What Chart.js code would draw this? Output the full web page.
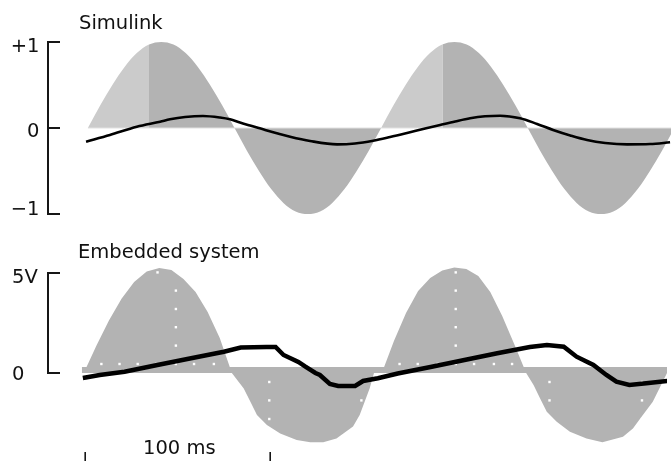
<!DOCTYPE html>
<html><head><meta charset="utf-8">
<script src="https://cdn.jsdelivr.net/npm/chart.js@4/dist/chart.umd.min.js"></script>
<style>
html,body{margin:0;padding:0;background:#fff;width:671px;height:461px;overflow:hidden}
#wrap{position:relative;width:671px;height:461px;font-family:"DejaVu Sans",sans-serif;color:#111}
canvas{position:absolute;left:0}
#c1{top:0}
#c2{top:230px}
.t{position:absolute;font-size:19.5px;line-height:1;white-space:nowrap}
</style></head>
<body><div id="wrap">
<canvas id="c1" width="671" height="230"></canvas>
<canvas id="c2" width="671" height="231"></canvas>
<div class="t" style="left:79px;top:13px">Simulink</div>
<div class="t" style="left:78px;top:242px">Embedded system</div>
<div class="t" style="left:143px;top:438px">100 ms</div>
</div>
<script>
// ---------- DATA (time in ms) ----------
const panelTitles = ['Simulink', 'Embedded system'];

// Top panel: Simulink PWM (shaded sine) and filtered output
const topPwmMs = [1.4, 7.95, 14.5, 21.05, 27.6, 34.15, 40.7, 47.25, 53.8, 60.35, 66.9, 73.45, 80.0, 86.55, 93.1, 99.65, 106.2, 112.75, 119.3, 125.85, 132.4, 138.95, 145.5, 152.05, 158.6, 165.15, 171.7, 178.25, 184.8, 191.35, 197.9, 204.45, 211.0, 217.55, 224.1, 230.65, 237.2, 243.75, 250.3, 256.85, 263.4, 269.95, 276.5, 283.05, 289.6, 296.15, 302.7, 309.25, 315.8];
const topPwmValues = [0, 0.26, 0.5, 0.71, 0.87, 0.97, 1.0, 0.97, 0.87, 0.71, 0.5, 0.26, 0, -0.26, -0.5, -0.71, -0.87, -0.97, -1.0, -0.97, -0.87, -0.71, -0.5, -0.26, 0, 0.26, 0.5, 0.71, 0.87, 0.97, 1.0, 0.97, 0.87, 0.71, 0.5, 0.26, 0, -0.26, -0.5, -0.71, -0.87, -0.97, -1.0, -0.97, -0.87, -0.71, -0.5, -0.26, 0];
const topFilteredMs = [0.4, 13.2, 27.6, 40.1, 45.4, 53.5, 63.1, 72.2, 77.6, 82.9, 88.3, 96.4, 109.8, 120.5, 135.0, 144.6, 154.3, 163.4, 172.5, 182.2, 190.2, 198.3, 206.3, 214.3, 222.4, 233.1, 242.2, 250.8, 260.0, 269.0, 278.7, 290.5, 302.8, 313.5];
const topFilteredValues = [-0.159, -0.081, 0.015, 0.073, 0.101, 0.128, 0.140, 0.122, 0.101, 0.064, 0.029, -0.023, -0.101, -0.151, -0.190, -0.180, -0.148, -0.105, -0.058, -0.006, 0.035, 0.076, 0.113, 0.136, 0.143, 0.113, 0.047, -0.023, -0.087, -0.140, -0.174, -0.190, -0.186, -0.166];
const topZeroMs = [1.4, 314];
const topZeroValues = [0, 0];
const topTickValues = [1, 0, -1];
const topTickLabels = ['+1', '0', '\u22121'];

// Bottom panel: embedded system PWM (shaded, V) and measured output (V)
const embPwmMs = [-1.77, -0.7, 6.09, 12.88, 19.67, 26.47, 33.26, 40.05, 46.58, 53.1, 59.63, 66.15, 72.68, 79.2, 85.62, 89.21, 92.75, 98.11, 105.29, 114.19, 121.54, 128.51, 135.64, 144.59, 148.18, 150.86, 153.54, 155.9, 160.14, 166.66, 173.18, 179.7, 186.23, 192.75, 199.27, 205.73, 212.18, 218.64, 225.09, 231.55, 238.0, 242.0, 245.54, 249.13, 254.49, 261.62, 270.57, 279.15, 290.25, 295.61, 300.97, 306.33, 309.87, 312.55, 314.0];
const embPwmValues = [0, 0, 1.36, 2.63, 3.71, 4.55, 5.07, 5.25, 5.15, 4.7, 4.05, 3.05, 1.75, 0, -0.77, -1.44, -2.1, -2.6, -3.02, -3.35, -3.46, -3.46, -3.27, -2.68, -2.1, -1.44, -0.77, 0, 0, 1.6, 3.0, 4.1, 4.75, 5.12, 5.28, 5.2, 4.85, 4.05, 2.85, 1.45, 0, -0.6, -1.27, -1.94, -2.44, -2.94, -3.27, -3.46, -3.19, -2.77, -2.1, -1.44, -0.77, -0.27, 0];
const embBandMs = [-1.77, 314];
const embBandValues = [0.3, 0.3];
const embOutMs = [-1.2, 7.9, 21.3, 39.0, 57.2, 74.9, 84.0, 97.9, 102.8, 107.1, 115.1, 118.9, 124.3, 126.7, 132.1, 136.6, 145.7, 150.0, 158.0, 168.7, 186.4, 204.7, 222.4, 240.0, 249.2, 258.3, 265.2, 274.3, 281.3, 286.7, 293.7, 302.8, 314.1];
const embOutValues = [-0.25, -0.1, 0.065, 0.4, 0.735, 1.065, 1.275, 1.3, 1.3, 0.9, 0.55, 0.315, 0.0, -0.1, -0.55, -0.65, -0.65, -0.4, -0.265, -0.025, 0.3, 0.65, 0.985, 1.3, 1.4, 1.315, 0.815, 0.4, -0.1, -0.43, -0.6, -0.515, -0.4];
const embDotMs = [8.8, 18.6, 28.4, 38.3, 49.0, 58.8, 69.5, 49.0, 49.0, 49.0, 49.0, 39.1, 99.4, 99.4, 99.4, 149.1, 149.1, 169.7, 179.5, 190.2, 200, 209.9, 220.6, 230.4, 200, 200, 200, 200, 200, 250.6, 250.6, 300.5, 300.5, 300.5];
const embDotValues = [0.45, 0.45, 0.45, 0.45, 0.45, 0.45, 0.45, 1.37, 2.29, 3.2, 4.12, 5.03, -0.45, -1.37, -2.3, -0.45, -1.37, 0.45, 0.45, 0.45, 0.45, 0.45, 0.45, 0.45, 1.37, 2.29, 3.2, 4.12, 5.03, -0.45, -1.37, -0.45, -1.37, -2.3];
const embTickValues = [5, 0];
const embTickLabels = ['5V', '0'];

// Scale bar (ms)
const scaleBarMs = [0, 100];

// ---------- helpers ----------
const pts = (xs, ys) => xs.map((x, i) => ({x: x, y: ys[i]}));
const DARK = '#b3b3b3', LIGHT = '#cbcbcb';
const lightBands = [[0.9, 34.5], [158.5, 191.5]];
const inLight = (a, b) => { const m = (a + b) / 2; return lightBands.some(r => m >= r[0] && m <= r[1]); };

const bracketPlugin = {
  id: 'bracket',
  afterDraw(chart, args, o) {
    const ctx = chart.ctx, ys = chart.scales.y, x0 = chart.chartArea.left;
    const p = o.values.map(v => ys.getPixelForValue(v));
    const top = Math.min(...p), bot = Math.max(...p);
    ctx.save();
    ctx.strokeStyle = '#161616'; ctx.lineWidth = 2;
    ctx.beginPath();
    ctx.moveTo(x0 + 12, top); ctx.lineTo(x0, top); ctx.lineTo(x0, bot); ctx.lineTo(x0 + 12, bot);
    p.forEach(py => { if (py !== top && py !== bot) { ctx.moveTo(x0, py); ctx.lineTo(x0 + 12, py); } });
    ctx.stroke();
    ctx.fillStyle = '#111'; ctx.font = '19.5px "DejaVu Sans"';
    ctx.textAlign = o.align; ctx.textBaseline = 'alphabetic';
    o.labels.forEach((l, i) => ctx.fillText(l, o.labelX, p[i] + o.offsets[i]));
    if (o.scaleBar) {
      const xs = chart.scales.x;
      ctx.lineWidth = 1.6; ctx.beginPath();
      o.scaleBar.forEach(v => { const px = Math.round(xs.getPixelForValue(v)) + 0.2; ctx.moveTo(px, 222); ctx.lineTo(px, 232); });
      ctx.stroke();
    }
    ctx.restore();
  }
};

const common = (yMin, yMax, pad) => ({
  responsive: false, animation: false, devicePixelRatio: 1,
  layout: {padding: pad},
  plugins: {legend: {display: false}, tooltip: {enabled: false}},
  scales: {
    x: {type: 'linear', min: -20, max: 314, display: false},
    y: {type: 'linear', min: yMin, max: yMax, display: false}
  },
  elements: {point: {radius: 0}}
});

// ---------- top chart ----------
const o1 = common(-1.15, 1.15, {left: 48, right: 0, top: 29, bottom: 3});
o1.plugins.bracket = {values: topTickValues, labels: topTickLabels, offsets: [9.8, 8.7, 0.9], align: 'right', labelX: 39.5};
new Chart(document.getElementById('c1'), {
  type: 'line',
  data: {datasets: [
    {label: 'Filtered', data: pts(topFilteredMs, topFilteredValues), borderColor: '#000', borderWidth: 2.6, cubicInterpolationMode: 'monotone', fill: false},
    {label: 'Zero', data: pts(topZeroMs, topZeroValues), borderColor: '#e2e2e2', borderWidth: 1.2, fill: false},
    {label: 'PWM', data: pts(topPwmMs, topPwmValues), borderWidth: 0, borderColor: 'rgba(0,0,0,0)', backgroundColor: DARK,
     cubicInterpolationMode: 'monotone', fill: 'origin',
     segment: {backgroundColor: c => inLight(c.p0.parsed.x, c.p1.parsed.x) ? LIGHT : DARK}}
  ]},
  options: o1,
  plugins: [bracketPlugin]
});

// ---------- bottom chart ----------
const o2 = common(-4.2, 5.8, {left: 48, right: 0, top: 27, bottom: 4});
o2.plugins.bracket = {values: embTickValues, labels: embTickLabels, offsets: [10, 7], align: 'left', labelX: 12, scaleBar: scaleBarMs};
new Chart(document.getElementById('c2'), {
  type: 'line',
  data: {datasets: [
    {label: 'Output', data: pts(embOutMs, embOutValues), borderColor: '#000', borderWidth: 4.5, fill: false},
    {label: 'Dots', data: pts(embDotMs, embDotValues), showLine: false, pointRadius: 1.7, pointStyle: 'rect', pointBackgroundColor: '#fff', pointBorderWidth: 0},
    {label: 'Band', data: pts(embBandMs, embBandValues), borderWidth: 0, borderColor: 'rgba(0,0,0,0)', backgroundColor: DARK, fill: 'origin'},
    {label: 'PWM', data: pts(embPwmMs, embPwmValues), borderWidth: 0, borderColor: 'rgba(0,0,0,0)', backgroundColor: DARK, fill: 'origin'}
  ]},
  options: o2,
  plugins: [bracketPlugin]
});
</script>
</body></html>
